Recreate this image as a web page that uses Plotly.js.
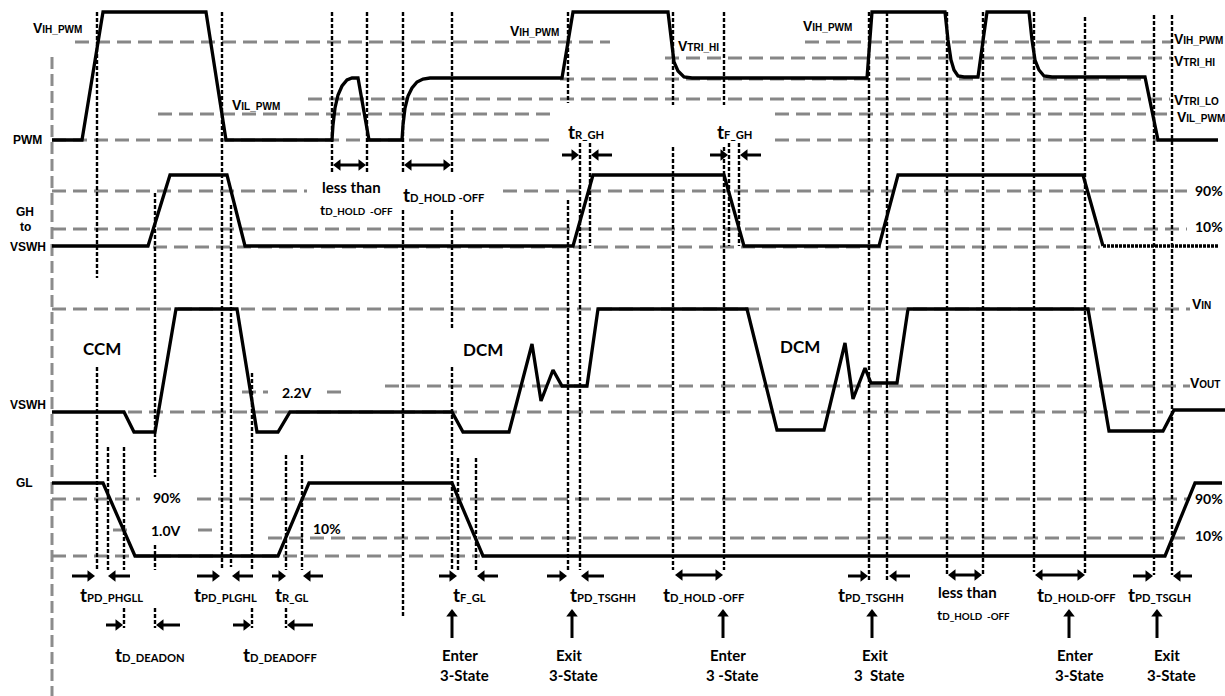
<!DOCTYPE html>
<html>
<head>
<meta charset="utf-8">
<script src="https://cdn.plot.ly/plotly-3.0.1.min.js"></script>
<style>
  html, body { margin: 0; padding: 0; background: #fff; }
  #chart { width: 1225px; height: 696px; }
</style>
</head>
<body>
<div id="chart"></div>
<script>
// ---- Waveforms (time along x, level along y; y grows downward) ----
const pwmT = [52, 82, 103, 206, 226, 332, 333, 335, 338, 342, 347, 352, 358, 369, 402,
  403, 405, 408, 412, 417, 423, 430, 562, 573, 668, 671, 674, 678, 684, 692, 867, 872,
  945, 948, 951, 954, 958, 964, 978, 987, 1029, 1032, 1035, 1039, 1044, 1052, 1145, 1158, 1218];
const pwmV = [140, 140, 12, 12, 140, 140, 125, 108, 95, 86, 80, 78, 78, 140, 140,
  125, 108, 96, 88, 82, 79, 78, 78, 12, 12, 40, 62, 71, 77, 78, 78, 12,
  12, 40, 60, 70, 76, 77, 77, 12, 12, 40, 60, 70, 76, 77, 77, 140, 140];

const ghT = [52, 148, 170, 227, 245, 573, 593, 724, 744, 879, 898, 1083, 1103];
const ghV = [246, 246, 175, 175, 246, 246, 175, 175, 246, 246, 175, 175, 246];
const ghTailT = [1103, 1218];
const ghTailV = [246, 246];

const vswhT = [52, 124, 134, 155, 176, 237, 257, 278, 290, 452, 463, 509, 532, 541, 553, 562,
  587, 598, 747, 777, 824, 845, 853, 865, 871, 897, 908, 1088, 1109, 1163, 1174, 1225];
const vswhV = [412, 412, 432, 432, 309, 309, 432, 432, 412, 412, 432, 432, 344, 401, 370, 386,
  386, 309, 309, 430, 430, 343, 399, 368, 383, 383, 309, 309, 431, 431, 410, 410];

const glT = [52, 103, 135, 278, 309, 452, 483, 1165, 1195, 1222];
const glV = [483, 483, 556, 556, 483, 483, 556, 556, 483, 483];

// ---- Threshold / reference levels: [level, from, to] ----
const thresholds = [
  [42, 75, 610], [42, 805, 1172],          // V_IH_PWM
  [58, 665, 1172],                          // V_TRI_HI
  [79, 560, 1145],                          // tri-state mid level
  [99, 308, 1170],                          // V_TRI_LO
  [114, 158, 552], [114, 775, 1172],        // V_IL_PWM
  [140, 52, 552], [140, 775, 1158],         // PWM low
  [191, 52, 307], [191, 503, 1187],         // GH 90%
  [229, 52, 1187],                          // GH 10%
  [247, 153, 1100],                         // GH low
  [309, 52, 1190],                          // V_IN
  [386, 385, 1190],                         // V_OUT
  [392, 242, 268], [392, 327, 346],         // 2.2V
  [412, 128, 1163],                         // VSWH 0
  [499, 52, 140], [499, 197, 1190],         // GL 90%
  [530, 113, 129], [530, 198, 217],         // 1.0V
  [538, 268, 1190],                         // GL 10%
  [556, 52, 480]                            // GL low
];

// ---- Event markers: [time, from, to] ----
const markers = [
  [97, 12, 278], [97, 367, 570], [108, 447, 570],
  [124, 447, 570], [124, 608, 628],
  [155, 193, 477], [155, 545, 570], [155, 608, 628],
  [222, 12, 568], [231, 205, 567],
  [252, 373, 570], [252, 608, 628],
  [286, 455, 570], [286, 608, 628], [302, 455, 570],
  [332, 12, 173], [367, 12, 173],
  [403, 12, 173], [403, 210, 618],
  [452, 12, 173], [452, 210, 328], [452, 367, 570],
  [458, 458, 570], [476, 458, 570],
  [568, 12, 103], [568, 200, 570], [580, 143, 570], [590, 143, 246],
  [673, 12, 105], [673, 147, 570], [724, 12, 105], [724, 147, 570],
  [729, 143, 246], [739, 143, 246],
  [869, 12, 580], [887, 12, 580], [947, 12, 575], [983, 12, 575],
  [1034, 12, 572], [1085, 17, 575], [1154, 15, 575], [1172, 15, 575]
];

// ---- Timing arrows: [tail, head, level] ----
const arrowsH = [
  [72, 95, 576], [130, 108, 576], [197, 220, 576], [253, 232, 576],
  [272, 286, 576], [323, 303, 576], [439, 457, 576], [498, 477, 576],
  [547, 567, 576], [604, 581, 576], [848, 868, 576], [910, 889, 576],
  [1133, 1153, 576], [1192, 1173, 576],
  [106, 123, 625], [180, 156, 625], [233, 251, 625], [313, 287, 625],
  [562, 579, 155], [612, 591, 155], [710, 728, 155], [761, 740, 155]
];
const arrowsBoth = [[333, 366, 165], [404, 451, 165], [675, 723, 575], [948, 982, 575], [1035, 1085, 575]];
const arrowsUp = [452, 572, 723, 872, 1069, 1157];
const arrowTail = 638, arrowTip = 609;

// ---- Text ----
const arial = '"Liberation Sans", Arial, sans-serif';
const calibri = 'Lato, "Open Sans", sans-serif';
// symbol letter followed by a smaller suffix, both on one baseline
const tLab = (sub) => '<span style="font-size:19px">t</span>' + sub;
const vLab = (sub) => '<span style="font-size:14px">V</span>' + sub;

const vLabels = [
  [33, 28, 'IH_PWM'], [232, 105, 'IL_PWM'], [510, 31, 'IH_PWM'], [678, 46, 'TRI_HI'],
  [803, 26, 'IH_PWM'], [1174, 39, 'IH_PWM'], [1174, 61, 'TRI_HI'], [1174, 100, 'TRI_LO'],
  [1177, 117, 'IL_PWM'], [1192, 304, 'IN'], [1190, 383, 'OUT']
];
const signalNames = [[27, 140, 'PWM'], [25, 212, 'GH'], [25, 227, 'to'], [28, 247, 'VSWH'], [28, 405, 'VSWH'], [24, 483, 'GL']];
const plainLabels = [
  [83, 348, 'CCM', 17], [463, 349, 'DCM', 17], [780, 346, 'DCM', 17],
  [282, 392, '2.2V', 14], [153, 497, '90%', 14], [151, 530, '1.0V', 14], [313, 528, '10%', 14],
  [1195, 190, '90%', 14], [1195, 226, '10%', 14], [1195, 498, '90%', 14], [1195, 535, '10%', 14],
  [322, 187, 'less than', 15], [938, 592, 'less than', 15]
];
const timingLabels = [
  [80, 593, 'PD_PHGLL'], [194, 593, 'PD_PLGHL'], [275, 593, 'R_GL'], [453, 593, 'F_GL'],
  [570, 593, 'PD_TSGHH'], [663, 593, 'D_HOLD -OFF'], [838, 593, 'PD_TSGHH'],
  [1037, 593, 'D_HOLD-OFF'], [1128, 593, 'PD_TSGLH'],
  [115, 653, 'D_DEADON'], [243, 653, 'D_DEADOFF'],
  [403, 193, 'D_HOLD -OFF'], [568, 130, 'R_GH'], [717, 130, 'F_GH']
];
const smallTimingLabels = [[320, 209, 'D_HOLD  -OFF'], [937, 614, 'D_HOLD  -OFF']];
const stateLabels = [
  [460, 'Enter', '3-State'], [569, 'Exit', '3-State'], [728, 'Enter', '3 -State'],
  [875, 'Exit', '3  State'], [1075, 'Enter', '3-State'], [1167, 'Exit', '3-State']
];

// ---- Waveform traces ----
const wave = (x, y, extra) => ({
  type: 'scatter', mode: 'lines', x: x, y: y, hoverinfo: 'skip',
  line: Object.assign({ color: '#000', width: 3.3 }, extra || {})
});
const traces = [
  wave(pwmT, pwmV), wave(ghT, ghV), wave(ghTailT, ghTailV, { dash: '3px,1px' }),
  wave(vswhT, vswhV), wave(glT, glV)
];

// ---- Arrow shafts and heads ----
const shaftX = [], shaftY = [];
const heads = { 'triangle-right': [[], []], 'triangle-left': [[], []], 'triangle-up': [[], []] };
const HEAD = 5;   // distance from marker centre to its tip
function addHead(x, y, dir) {
  if (dir === 'up') { heads['triangle-up'][0].push(x); heads['triangle-up'][1].push(y + HEAD); }
  else if (dir > 0) { heads['triangle-right'][0].push(x - HEAD); heads['triangle-right'][1].push(y); }
  else { heads['triangle-left'][0].push(x + HEAD); heads['triangle-left'][1].push(y); }
}
arrowsH.forEach(([t, h, y]) => {
  const dir = Math.sign(h - t);
  shaftX.push(t, h - dir * HEAD, null); shaftY.push(y, y, null);
  addHead(h, y, dir);
});
arrowsBoth.forEach(([a, b, y]) => {
  shaftX.push(a + HEAD, b - HEAD, null); shaftY.push(y, y, null);
  addHead(b, y, 1); addHead(a, y, -1);
});
arrowsUp.forEach((x) => {
  shaftX.push(x, x, null); shaftY.push(arrowTail, arrowTip + HEAD, null);
  addHead(x, arrowTip, 'up');
});
traces.push({ type: 'scatter', mode: 'lines', x: shaftX, y: shaftY, hoverinfo: 'skip',
  line: { color: '#000', width: 3 } });
Object.keys(heads).forEach((sym) => traces.push({
  type: 'scatter', mode: 'markers', x: heads[sym][0], y: heads[sym][1], hoverinfo: 'skip',
  marker: { symbol: sym, size: 10, color: '#000', line: { width: 0 } }
}));

// ---- Shapes ----
const shapes = [];
shapes.push({ type: 'line', xref: 'x', yref: 'y', x0: 52, x1: 52, y0: 57, y1: 696, layer: 'below',
  line: { color: '#8c8c8c', width: 3, dash: '12px,5px' } });
thresholds.forEach(([y, x0, x1]) => shapes.push({
  type: 'line', xref: 'x', yref: 'y', x0: x0, x1: x1, y0: y, y1: y, layer: 'below',
  line: { color: '#878787', width: 3, dash: '14px,7px' }
}));
markers.forEach(([x, y0, y1]) => shapes.push({
  type: 'line', xref: 'x', yref: 'y', x0: x, x1: x, y0: y0, y1: y1, layer: 'below',
  line: { color: '#000', width: 2.4, dash: '4px,2px' }
}));

// ---- Annotations ----
const ann = [];
const text = (x, y, t, family, size, xanchor) => ann.push({
  x: x, y: y, xref: 'x', yref: 'y', text: t, showarrow: false,
  xanchor: xanchor || 'left', yanchor: 'middle', borderpad: 0, borderwidth: 0,
  font: { family: family, size: size, color: '#000', weight: 700 }
});
vLabels.forEach(([x, y, s]) => text(x, y, vLab(s), arial, 10));
signalNames.forEach(([x, y, s]) => text(x, y, s, arial, 12, 'center'));
plainLabels.forEach(([x, y, s, fs]) => text(x, y, s, calibri, fs));
timingLabels.forEach(([x, y, s]) => text(x, y + 1, tLab(s), calibri, 11.2));
smallTimingLabels.forEach(([x, y, s]) => text(x, y, '<span style="font-size:14px">t</span>' + s, calibri, 9.8));
stateLabels.forEach(([x, a, b]) => { text(x, 655, a, calibri, 15, 'center'); text(x + 4, 675, b, calibri, 15, 'center'); });

const layout = {
  width: 1225, height: 696,
  margin: { l: 0, r: 0, t: 0, b: 0 },
  paper_bgcolor: '#fff', plot_bgcolor: '#fff',
  showlegend: false,
  xaxis: { range: [0, 1225], visible: false, fixedrange: true },
  yaxis: { range: [696, 0], visible: false, fixedrange: true },
  shapes: shapes,
  annotations: ann
};

Plotly.newPlot('chart', traces, layout, { staticPlot: true, displayModeBar: false });
</script>
</body>
</html>
